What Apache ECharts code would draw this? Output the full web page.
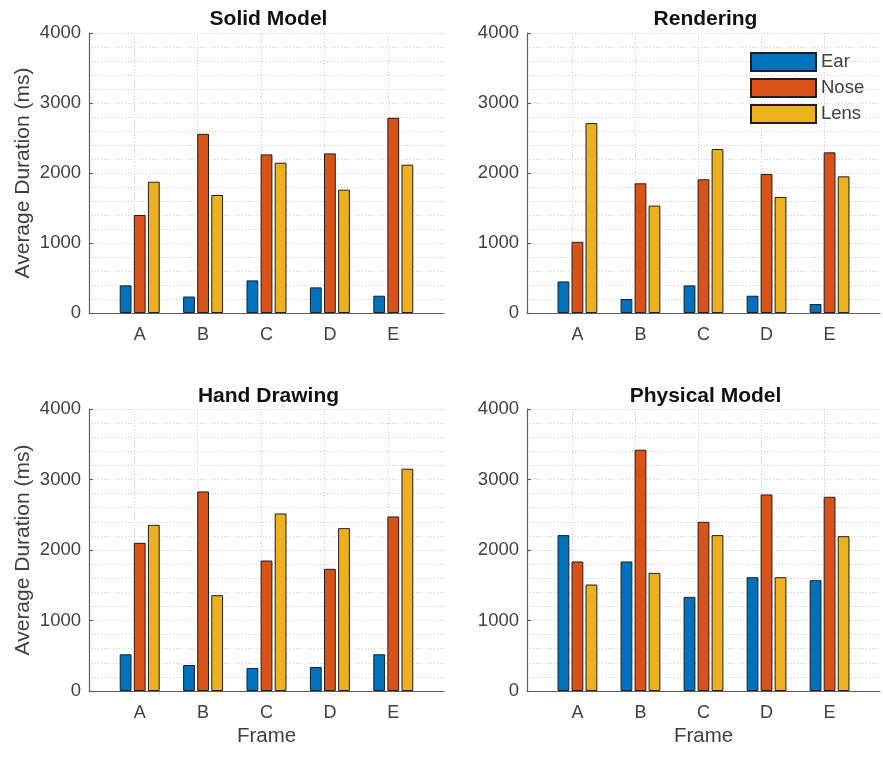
<!DOCTYPE html>
<html>
<head>
<meta charset="utf-8">
<script src="https://cdn.jsdelivr.net/npm/echarts@6/dist/echarts.min.js"></script>
<style>
  html, body { margin: 0; padding: 0; background: #ffffff; }
  #chart { width: 883px; height: 761px; }
</style>
</head>
<body>
<div id="chart"></div>
<script>
// Frames shown along each x axis
const categories = ['A', 'B', 'C', 'D', 'E'];
const seriesNames = ['Ear', 'Nose', 'Lens'];
const panelTitles = ['Solid Model', 'Rendering', 'Hand Drawing', 'Physical Model'];
const yTicks = [0, 1000, 2000, 3000, 4000];

// Average duration (ms) per frame, one array per condition
const solidEar  = [395, 235, 466, 366, 247];
const solidNose = [1400, 2560, 2266, 2280, 2789];
const solidLens = [1876, 1686, 2147, 1762, 2119];

const renderEar  = [451, 200, 394, 247, 128];
const renderNose = [1017, 1853, 1910, 1986, 2295];
const renderLens = [2713, 1534, 2342, 1658, 1952];

const handEar  = [521, 369, 327, 341, 521];
const handNose = [2102, 2831, 1851, 1733, 2476];
const handLens = [2357, 1359, 2518, 2310, 3153];

const physEar  = [2211, 1837, 1335, 1614, 1572];
const physNose = [1837, 3423, 2400, 2788, 2755];
const physLens = [1510, 1676, 2211, 1614, 2196];

const panelData = [
  [solidEar, solidNose, solidLens],
  [renderEar, renderNose, renderLens],
  [handEar, handNose, handLens],
  [physEar, physNose, physLens]
];

const colors = ['#0072BD', '#D95319', '#EDB120'];
const FONT = '"Liberation Sans", Arial, Helvetica, sans-serif';
const TEXT = '#404040';
const AXIS = '#5e5e5e';
const GRIDLINE = '#cfcfcf';

// Plot rectangles of the 2x2 layout
const grids = [
  { left: 89,  top: 33,  width: 355, height: 280 },
  { left: 527, top: 33,  width: 353, height: 280 },
  { left: 89,  top: 409, width: 355, height: 282 },
  { left: 527, top: 409, width: 353, height: 282 }
];

// Category positions on the numeric x axis and the grouped-bar offsets
const positions = categories.map((c, i) => i + 1);
const groupStep = 2 / 9;

const xAxes = [], yAxes = [], series = [], titles = [];

grids.forEach((g, k) => {
  const isLeft = k % 2 === 0;
  const isBottom = k >= 2;

  xAxes.push({
    gridIndex: k,
    type: 'value',
    min: 0.2,
    max: 5.8,
    name: isBottom ? 'Frame' : '',
    nameLocation: 'middle',
    nameGap: 35,
    nameTextStyle: { fontFamily: FONT, fontSize: 20.5, color: TEXT },
    axisLine: { show: true, onZero: false, lineStyle: { color: AXIS, width: 1.2 } },
    axisTick: { show: false },
    splitLine: { show: false },
    axisLabel: {
      customValues: positions,
      margin: 13,
      fontFamily: FONT, fontSize: 18, color: TEXT,
      formatter: v => (Number.isInteger(v) && v >= 1 && v <= categories.length) ? categories[v - 1] : ''
    }
  });

  yAxes.push({
    gridIndex: k,
    type: 'value',
    min: yTicks[0],
    max: yTicks[yTicks.length - 1],
    interval: 1000,
    name: isLeft ? 'Average Duration (ms)' : '',
    nameLocation: 'middle',
    nameGap: 55,
    nameTextStyle: { fontFamily: FONT, fontSize: 21, color: TEXT },
    axisLine: { show: true, lineStyle: { color: AXIS, width: 1.2 } },
    axisTick: { show: true, inside: true, length: 4, lineStyle: { color: AXIS, width: 1.2 } },
    axisLabel: {
      margin: 8, fontFamily: FONT, fontSize: 18.5, color: TEXT,
      formatter: v => String(v)
    },
    splitLine: { show: true, lineStyle: { color: GRIDLINE, type: [1, 2], width: 1 } },
    minorTick: { show: false, splitNumber: 5 },
    minorSplitLine: { show: true, lineStyle: { color: GRIDLINE, type: [1, 2], width: 1 } }
  });

  titles.push({
    text: panelTitles[k],
    left: g.left + g.width / 2 - 3,
    top: isBottom ? 381 : 4,
    textAlign: 'center',
    textStyle: { fontFamily: FONT, fontSize: 21, fontWeight: 'bold', color: '#111111' }
  });

  // Dotted vertical grid lines at each frame, kept behind the bars
  series.push({
    type: 'bar',
    name: '',
    xAxisIndex: k,
    yAxisIndex: k,
    data: [],
    z: 0,
    silent: true,
    markLine: {
      z: 1,
      silent: true,
      symbol: 'none',
      animation: false,
      label: { show: false },
      emphasis: { disabled: true },
      lineStyle: { color: GRIDLINE, type: [1, 2], width: 1 },
      data: positions.map(p => ({ xAxis: p }))
    }
  });

  panelData[k].forEach((vals, s) => {
    series.push({
      type: 'bar',
      name: seriesNames[s],
      xAxisIndex: k,
      yAxisIndex: k,
      barWidth: 11.8,
      barGap: '-100%',
      z: 3,
      itemStyle: { color: colors[s], borderColor: '#1f1f1f', borderWidth: 1 },
      emphasis: { disabled: true },
      data: vals.map((v, i) => [positions[i] + (s - 1) * groupStep, v])
    });
  });
});

const chart = echarts.init(document.getElementById('chart'), null, { renderer: 'canvas' });
chart.setOption({
  animation: false,
  backgroundColor: '#ffffff',
  title: titles,
  legend: {
    data: seriesNames,
    orient: 'vertical',
    left: 750,
    top: 52,
    itemWidth: 65,
    itemHeight: 18,
    itemGap: 6,
    icon: 'rect',
    selectedMode: false,
    textStyle: { fontFamily: FONT, fontSize: 18.5, color: TEXT },
    padding: 0
  },
  grid: grids.map(g => Object.assign({ containLabel: false }, g)),
  xAxis: xAxes,
  yAxis: yAxes,
  series: series
});
</script>
</body>
</html>
